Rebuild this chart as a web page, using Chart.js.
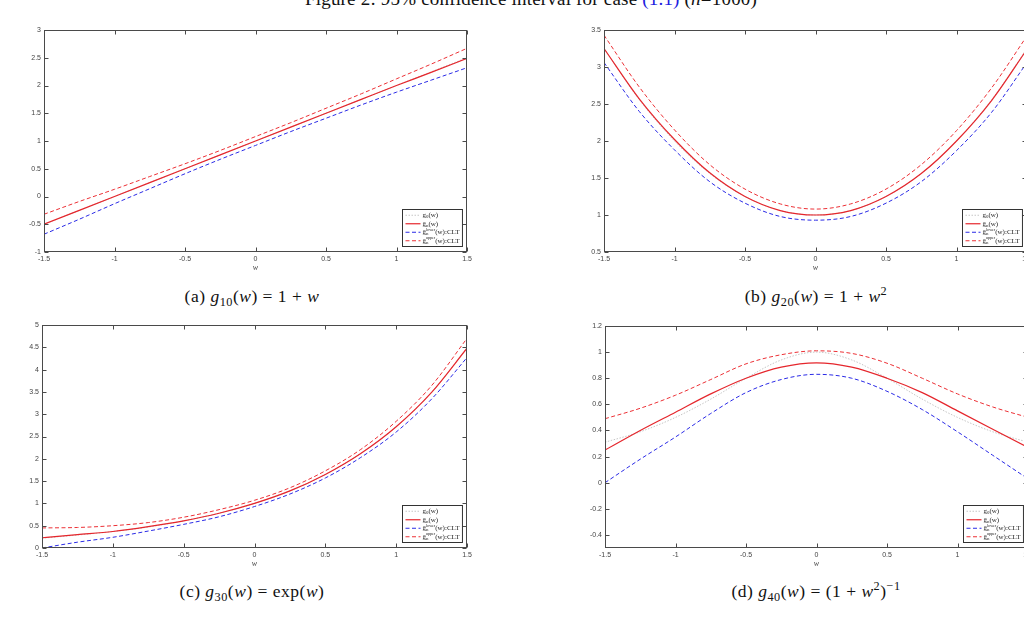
<!DOCTYPE html>
<html>
<head>
<meta charset="utf-8">
<script src="https://cdn.jsdelivr.net/npm/chart.js@4"></script>
<style>
  html, body { margin:0; padding:0; background:#fff; }
  body { width:1024px; height:618px; overflow:hidden; position:relative; font-family:"Liberation Serif", serif; color:#111; }
  canvas { position:absolute; }
  .cap { position:absolute; font-size:17.5px; line-height:18px; letter-spacing:0.5px; white-space:nowrap; transform:translateX(-50%); }
  .cap sub { font-size:0.7em; vertical-align:-0.3em; line-height:0; }
  .cap sup { font-size:0.7em; vertical-align:0.55em; line-height:0; }
  #title { position:absolute; left:531px; top:-11px; font-size:19px; line-height:19px; letter-spacing:0.2px; white-space:nowrap; transform:translateX(-50%); }
  #title .ref { color:#2020e0; }
</style>
</head>
<body>
<div id="title">Figure 2: 95% confidence interval for case <span class="ref">(1.1)</span> (<i>n</i>=1000)</div>

<canvas id="chartA" width="480" height="260" style="left:0;top:20px"></canvas>
<canvas id="chartB" width="480" height="260" style="left:560px;top:20px"></canvas>
<canvas id="chartC" width="480" height="261" style="left:0;top:315px"></canvas>
<canvas id="chartD" width="480" height="260" style="left:560px;top:316px"></canvas>

<div class="cap" style="left:252px;top:287px">(a) <i>g</i><sub>10</sub>(<i>w</i>) = 1 + <i>w</i></div>
<div class="cap" style="left:816px;top:287px">(b) <i>g</i><sub>20</sub>(<i>w</i>) = 1 + <i>w</i><sup>2</sup></div>
<div class="cap" style="left:252px;top:582px">(c) <i>g</i><sub>30</sub>(<i>w</i>) = exp(<i>w</i>)</div>
<div class="cap" style="left:816px;top:582px">(d) <i>g</i><sub>40</sub>(<i>w</i>) = (1 + <i>w</i><sup>2</sup>)<sup>−1</sup></div>

<script>
// ── grid of w values and tick labels ───────────────
const W = [-1.5, -1.25, -1, -0.75, -0.5, -0.25, 0, 0.25, 0.5, 0.75, 1, 1.25, 1.5];
const X_TICKS = [-1.5, -1, -0.5, 0, 0.5, 1, 1.5];

const LABELS = ["g_0(w)", "ĝ_n(w)", "ĝ_n^lower(w):CLT", "ĝ_n^upper(w):CLT"];

// (a) g10(w) = 1 + w
const A_TRUE  = [-0.5, -0.25, 0, 0.25, 0.5, 0.75, 1, 1.25, 1.5, 1.75, 2, 2.25, 2.5];
const A_EST   = [-0.5, -0.25, 0, 0.25, 0.5, 0.75, 1, 1.25, 1.5, 1.75, 2, 2.24, 2.49];
const A_LOWER = [-0.68, -0.41, -0.13, 0.14, 0.41, 0.67, 0.92, 1.17, 1.41, 1.65, 1.88, 2.1, 2.32];
const A_UPPER = [-0.32, -0.09, 0.13, 0.36, 0.59, 0.83, 1.08, 1.33, 1.59, 1.85, 2.12, 2.39, 2.67];
const A_YTICKS = [-1, -0.5, 0, 0.5, 1, 1.5, 2, 2.5, 3];

// (b) g20(w) = 1 + w^2
const B_TRUE  = [3.25, 2.56, 2.0, 1.56, 1.25, 1.06, 1.0, 1.06, 1.25, 1.56, 2.0, 2.56, 3.25];
const B_EST   = [3.25, 2.57, 2.02, 1.57, 1.25, 1.06, 1.0, 1.06, 1.25, 1.56, 2.0, 2.55, 3.24];
const B_LOWER = [3.06, 2.4, 1.88, 1.45, 1.16, 0.98, 0.93, 0.98, 1.16, 1.45, 1.87, 2.39, 3.06];
const B_UPPER = [3.43, 2.73, 2.15, 1.68, 1.35, 1.15, 1.08, 1.15, 1.35, 1.68, 2.14, 2.72, 3.42];
const B_YTICKS = [0.5, 1, 1.5, 2, 2.5, 3, 3.5];

// (c) g30(w) = exp(w)
const C_TRUE  = [0.22, 0.29, 0.37, 0.47, 0.61, 0.78, 1.0, 1.28, 1.65, 2.12, 2.72, 3.49, 4.48];
const C_EST   = [0.23, 0.3, 0.37, 0.48, 0.61, 0.78, 1.0, 1.28, 1.65, 2.12, 2.72, 3.49, 4.48];
const C_LOWER = [0.0, 0.13, 0.24, 0.38, 0.53, 0.7, 0.93, 1.21, 1.57, 2.03, 2.6, 3.34, 4.27];
const C_UPPER = [0.45, 0.46, 0.5, 0.57, 0.69, 0.86, 1.07, 1.35, 1.73, 2.21, 2.84, 3.64, 4.7];
const C_YTICKS = [0, 0.5, 1, 1.5, 2, 2.5, 3, 3.5, 4, 4.5, 5];

// (d) g40(w) = (1 + w^2)^-1
const D_TRUE  = [0.31, 0.39, 0.5, 0.64, 0.8, 0.94, 1.0, 0.94, 0.8, 0.64, 0.5, 0.39, 0.31];
const D_EST   = [0.25, 0.4, 0.54, 0.68, 0.8, 0.885, 0.918, 0.885, 0.8, 0.69, 0.55, 0.41, 0.27];
const D_LOWER = [0.0, 0.18, 0.35, 0.53, 0.69, 0.79, 0.83, 0.8, 0.7, 0.56, 0.39, 0.21, 0.03];
const D_UPPER = [0.49, 0.57, 0.67, 0.79, 0.91, 0.98, 1.01, 0.99, 0.915, 0.8, 0.68, 0.58, 0.5];
const D_YTICKS = [-0.4, -0.2, 0, 0.2, 0.4, 0.6, 0.8, 1, 1.2];

const STYLES = [
  { borderColor:"#b8b8b8", borderWidth:0.8, borderDash:[1.5, 1.5], order:4 },
  { borderColor:"#e5262c", borderWidth:1.2, borderDash:[], order:3 },
  { borderColor:"#2a2ae6", borderWidth:1, borderDash:[4, 2.5], order:2 },
  { borderColor:"#ec3035", borderWidth:1, borderDash:[4, 2.5], order:1 },
];

// ── small rich-text helper for legend labels (g_n^lower) ──
function richText(ctx, s, x, y, size, draw) {
  const parts = s.split(/(_\w|\^\w+)/).filter(p => p !== "");
  let cx = x, subStart = null, subW = 0;
  parts.forEach(p => {
    let txt = p, fs = size, dy = 0;
    if (p[0] === "_") { txt = p.slice(1); fs = size * 0.7; dy = size * 0.28; }
    else if (p[0] === "^") { txt = p.slice(1); fs = size * 0.58; dy = -size * 0.38; }
    ctx.font = `${fs}px "Liberation Serif", serif`;
    const w = ctx.measureText(txt).width;
    if (p[0] === "^" && subStart !== null) {
      if (draw) ctx.fillText(txt, subStart, y + dy);
      cx = subStart + Math.max(w, subW);
      subStart = null;
      return;
    }
    if (draw) ctx.fillText(txt, cx, y + dy);
    if (p[0] === "_") { subStart = cx; subW = w; } else subStart = null;
    cx += w;
  });
  return cx - x;
}

// ── MATLAB-like frame, inward ticks, axis label, legend ──
const matlabFrame = {
  id: "matlabFrame",
  afterDatasetsDraw(chart) {
    const { ctx, chartArea:a, scales } = chart;
    ctx.save();
    ctx.strokeStyle = "#4a4a4a";
    ctx.lineWidth = 1;
    ctx.setLineDash([]);
    const L = Math.round(a.left) + 0.5, R = Math.round(a.right) - 0.5;
    const T = Math.round(a.top) + 0.5, B = Math.round(a.bottom) - 0.5;
    ctx.beginPath();
    scales.x.ticks.forEach(t => {
      const px = Math.round(scales.x.getPixelForValue(t.value)) + 0.5;
      ctx.moveTo(px, B); ctx.lineTo(px, B - 4);
      ctx.moveTo(px, T); ctx.lineTo(px, T + 4);
    });
    scales.y.ticks.forEach(t => {
      const py = Math.round(scales.y.getPixelForValue(t.value)) + 0.5;
      ctx.moveTo(L, py); ctx.lineTo(L + 4, py);
      ctx.moveTo(R, py); ctx.lineTo(R - 4, py);
    });
    ctx.stroke();
    ctx.strokeRect(L, T, R - L, B - T);

    // x axis label
    ctx.fillStyle = "#444";
    ctx.font = 'italic 8px "Liberation Serif", serif';
    ctx.textAlign = "center";
    ctx.textBaseline = "middle";
    ctx.fillText("w", (a.left + a.right) / 2, a.bottom + 16);

    // legend
    const ds = chart.data.datasets;
    const size = 7, rowH = 8.5, lineLen = 15, pad = 3;
    ctx.textAlign = "left";
    ctx.textBaseline = "middle";
    const textW = Math.max(...ds.map(d => richText(ctx, d.label, 0, 0, size, false)));
    const bw = pad + lineLen + 2 + textW + pad;
    const bh = ds.length * rowH + 3;
    const bx = Math.round(a.right - 5 - bw) + 0.5;
    const by = Math.round(a.bottom - 6 - bh) + 0.5;
    ctx.fillStyle = "#fff";
    ctx.fillRect(bx, by, bw, bh);
    ctx.strokeStyle = "#333";
    ctx.lineWidth = 1;
    ctx.strokeRect(bx, by, bw, bh);
    ds.forEach((d, i) => {
      const y = by + 1.5 + rowH * i + rowH / 2;
      ctx.beginPath();
      ctx.setLineDash(d.borderDash || []);
      ctx.strokeStyle = d.borderColor;
      ctx.lineWidth = d.borderWidth;
      ctx.moveTo(bx + pad, y);
      ctx.lineTo(bx + pad + lineLen, y);
      ctx.stroke();
      ctx.setLineDash([]);
      ctx.fillStyle = "#222";
      richText(ctx, d.label, bx + pad + lineLen + 2, y, size, true);
    });
    ctx.restore();
  }
};

const TICK_FONT = { size:7, family:'"Liberation Sans", sans-serif' };

function makeChart(id, series, yMin, yMax, yTicks, yWidth, padRight) {
  new Chart(document.getElementById(id), {
    type: "line",
    data: {
      datasets: series.map((vals, i) => ({
        label: LABELS[i],
        data: W.map((w, k) => ({ x:w, y:vals[k] })),
        ...STYLES[i],
        pointRadius: 0,
        cubicInterpolationMode: "monotone",
        fill: false,
      })),
    },
    options: {
      responsive: false,
      animation: false,
      events: [],
      layout: { padding: { top:10, right:padRight, left:0, bottom:0 } },
      plugins: { legend: { display:false }, tooltip: { enabled:false } },
      scales: {
        x: {
          type: "linear", min:-1.5, max:1.5,
          afterBuildTicks: s => { s.ticks = X_TICKS.map(v => ({ value:v })); },
          afterFit: s => { s.height = 28; },
          grid: { display:false, drawTicks:false },
          border: { display:false },
          ticks: { font:TICK_FONT, color:"#444", padding:3, maxRotation:0, autoSkip:false, callback: v => String(v) },
        },
        y: {
          type: "linear", min:yMin, max:yMax,
          afterBuildTicks: s => { s.ticks = yTicks.map(v => ({ value:v })); },
          afterFit: s => { s.width = yWidth; },
          grid: { display:false, drawTicks:false },
          border: { display:false },
          ticks: { font:TICK_FONT, color:"#444", padding:3, autoSkip:false, callback: v => String(v) },
        },
      },
    },
    plugins: [matlabFrame],
  });
}

makeChart("chartA", [A_TRUE, A_EST, A_LOWER, A_UPPER], -1, 3, A_YTICKS, 44, 13);
makeChart("chartB", [B_TRUE, B_EST, B_LOWER, B_UPPER], 0.5, 3.5, B_YTICKS, 44, 13);
makeChart("chartC", [C_TRUE, C_EST, C_LOWER, C_UPPER], 0, 5, C_YTICKS, 42, 13);
makeChart("chartD", [D_TRUE, D_EST, D_LOWER, D_UPPER], -0.5, 1.2, D_YTICKS, 45, 12);
</script>
</body>
</html>
